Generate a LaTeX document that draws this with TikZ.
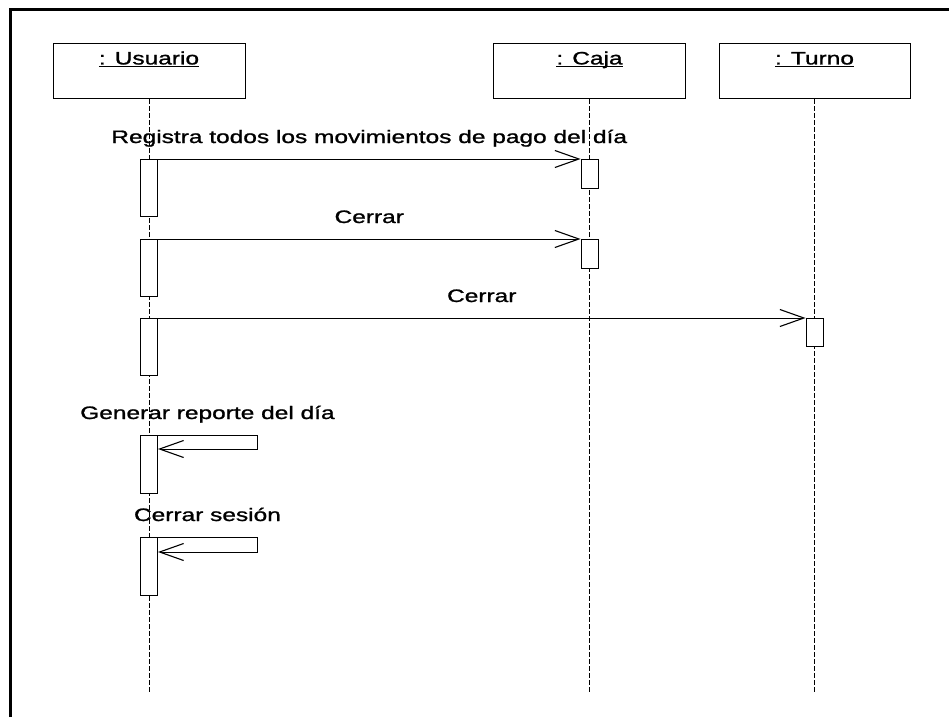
\documentclass[tikz,border=0pt]{standalone}
\usepackage{fontspec}
\setmainfont{Liberation Sans}[FakeStretch=1.36, FakeBold=1.2]
\usetikzlibrary{arrows.meta,positioning}

\newcommand\objname[1]{\underline{\smash{#1}}}

\begin{document}
\begin{tikzpicture}[
  x=1pt, y=-1pt,
  font=\fontsize{18}{21}\selectfont,
  obj/.style={draw, line width=0.9pt, anchor=north, minimum width=#1, inner xsep=0pt, inner ysep=4pt, text height=17pt, text depth=30pt},
  obj/.default=192pt,
  act/.style={draw, fill=white, line width=0.9pt, anchor=north, minimum width=17pt, minimum height=#1, inner sep=0pt},
  act/.default=57pt,
  life/.style={line width=0.8pt, dash pattern=on 5pt off 2pt},
  msg/.style={-{Straight Barb[length=24pt,width=17pt,line width=1.1pt]}, line width=0.9pt},
  lbl/.style={anchor=base, yshift=16pt, inner sep=0pt}
]
\useasboundingbox (0,0) rectangle (949,717);
% ---------------- frame
\draw[line width=3pt] (10.5,717) -- (10.5,10) -- (949,10);
% ---------------- objects
\node[obj] (usr) at (149,43) {\objname{: Usuario}};
\node[obj] (caja) at (589.5,43) {\objname{: Caja}};
\node[obj=191pt] (turno) at (814.5,43) {\objname{: Turno}};
% ---------------- lifelines
\coordinate (fin) at (0,692);
\draw[life] (usr.south) -- (usr.south |- fin);
\draw[life] (caja.south) -- (caja.south |- fin);
\draw[life] (turno.south) -- (turno.south |- fin);
% ---------------- activations
\node[act] (u1) at (usr.south |- 0,159) {};
\node[act] (u2) at (usr.south |- 0,239) {};
\node[act] (u3) at (usr.south |- 0,318) {};
\node[act=58pt] (u4) at (usr.south |- 0,435) {};
\node[act=58pt] (u5) at (usr.south |- 0,537) {};
\node[act=29pt] (c1) at (caja.south |- 0,159) {};
\node[act=29pt] (c2) at (caja.south |- 0,239) {};
\node[act=28pt] (t1) at (turno.south |- 0,318) {};
% ---------------- messages
\draw[msg] (u1.north east) -- node[lbl] (lreg) {Registra todos los movimientos de pago del día} (c1.north west);
\draw[msg] (u2.north east) -- node[lbl] (lcer1) {Cerrar} (c2.north west);
\draw[msg] (u3.north east) -- node[lbl] (lcer2) {Cerrar} (t1.north west);
\draw[msg] (u4.north east) -- node[lbl] (lgen) {Generar reporte del día} ++(99,0) -- ++(0,14) -- ++(-99,0);
\draw[msg] (u5.north east) -- node[lbl] (lses) {Cerrar sesión} ++(99,0) -- ++(0,15) -- ++(-99,0);
\end{tikzpicture}
\end{document}
